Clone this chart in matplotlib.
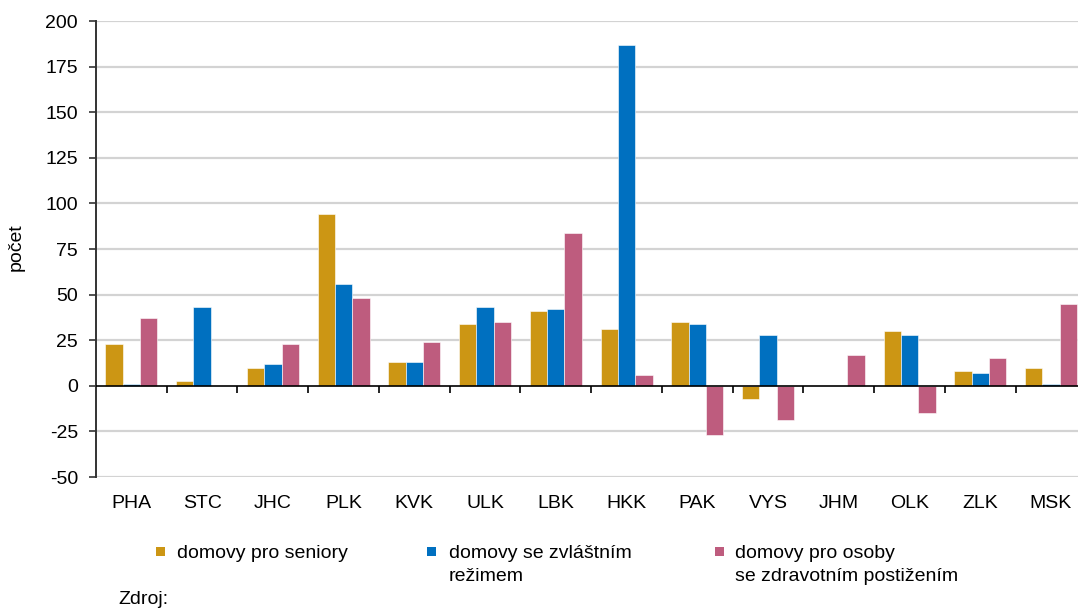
import matplotlib
matplotlib.use("Agg")
import matplotlib.pyplot as plt
from matplotlib.patches import Rectangle
import numpy as np

plt.rcParams['font.family'] = ['Liberation Sans', 'DejaVu Sans']

categories = ["PHA", "STC", "JHC", "PLK", "KVK", "ULK", "LBK", "HKK", "PAK", "VYS", "JHM", "OLK", "ZLK", "MSK"]
seniors = [23, 2.5, 10, 94, 13, 34, 41, 31, 35, -7, 0, 30, 8, 10]
special = [1, 43, 12, 56, 13, 43, 42, 187, 34, 28, 0, 28, 7, 1]
disabled = [37, 0, 23, 48, 24, 35, 84, 6, -27, -19, 17, -15, 15, 45]
series_labels = ["domovy pro seniory", "domovy se zvláštním\nrežimem", "domovy pro osoby\nse zdravotním postižením"]
colors = ["#CC9614", "#0070C0", "#BE5C7E"]
yticks = [-50, -25, 0, 25, 50, 75, 100, 125, 150, 175, 200]

FS = 14
W, H = 1078, 608
fig = plt.figure(figsize=(W / 100, H / 100), dpi=100)
ax = fig.add_axes([96 / W, 1 - 477 / H, (1078 - 96) / W, (477 - 21) / H])

x = np.arange(len(categories))
bw = 0.245
for i, (vals, c) in enumerate(zip([seniors, special, disabled], colors)):
    ax.bar(x + (i - 1) * bw, vals, width=bw, color=c, edgecolor="white", linewidth=0.4, zorder=3)

ax.set_ylim(-50, 200)
ax.set_xlim(-0.5, 13 + (1078 - 1051) / 70.7)
ax.set_yticks(yticks)
ax.set_yticklabels([str(t) for t in yticks], fontsize=FS)
for t in yticks:
    if t != 0:
        ax.axhline(t, color="#D3D3D3", linewidth=1.6, zorder=1)
ax.axhline(0, color="black", linewidth=1.2, zorder=4)
ax.vlines(x[:-1] + 0.5, -3.8, 0, color="black", linewidth=1.2, zorder=4)

ax.set_xticks(x)
ax.set_xticklabels(categories, fontsize=FS)
ax.tick_params(axis="x", length=0, pad=13)
ax.tick_params(axis="y", length=5, width=1.2, direction="out", pad=8, color="#333333")

for s in ["top", "right", "bottom"]:
    ax.spines[s].set_visible(False)
ax.spines["left"].set_color("#333333")
ax.spines["left"].set_linewidth(1.4)

fig.text(16 / W, 1 - 247 / H, "počet", fontsize=14, rotation=90, ha="center", va="center")

# legend
leg_x = [156, 427, 715]
text_x = [177, 449, 735]
for lx, tx, lab, c in zip(leg_x, text_x, series_labels, colors):
    fig.patches.append(Rectangle((lx / W, 1 - 556 / H), 9 / W, 9 / H,
                                 transform=fig.transFigure, facecolor=c, edgecolor="none"))
    fig.text(tx / W, 1 - 545 / H, lab, fontsize=FS, va="top", ha="left", linespacing=1.45)

fig.text(118 / W, 1 - 591 / H, "Zdroj:", fontsize=FS, va="top", ha="left")

fig.savefig("out.png", dpi=100)
